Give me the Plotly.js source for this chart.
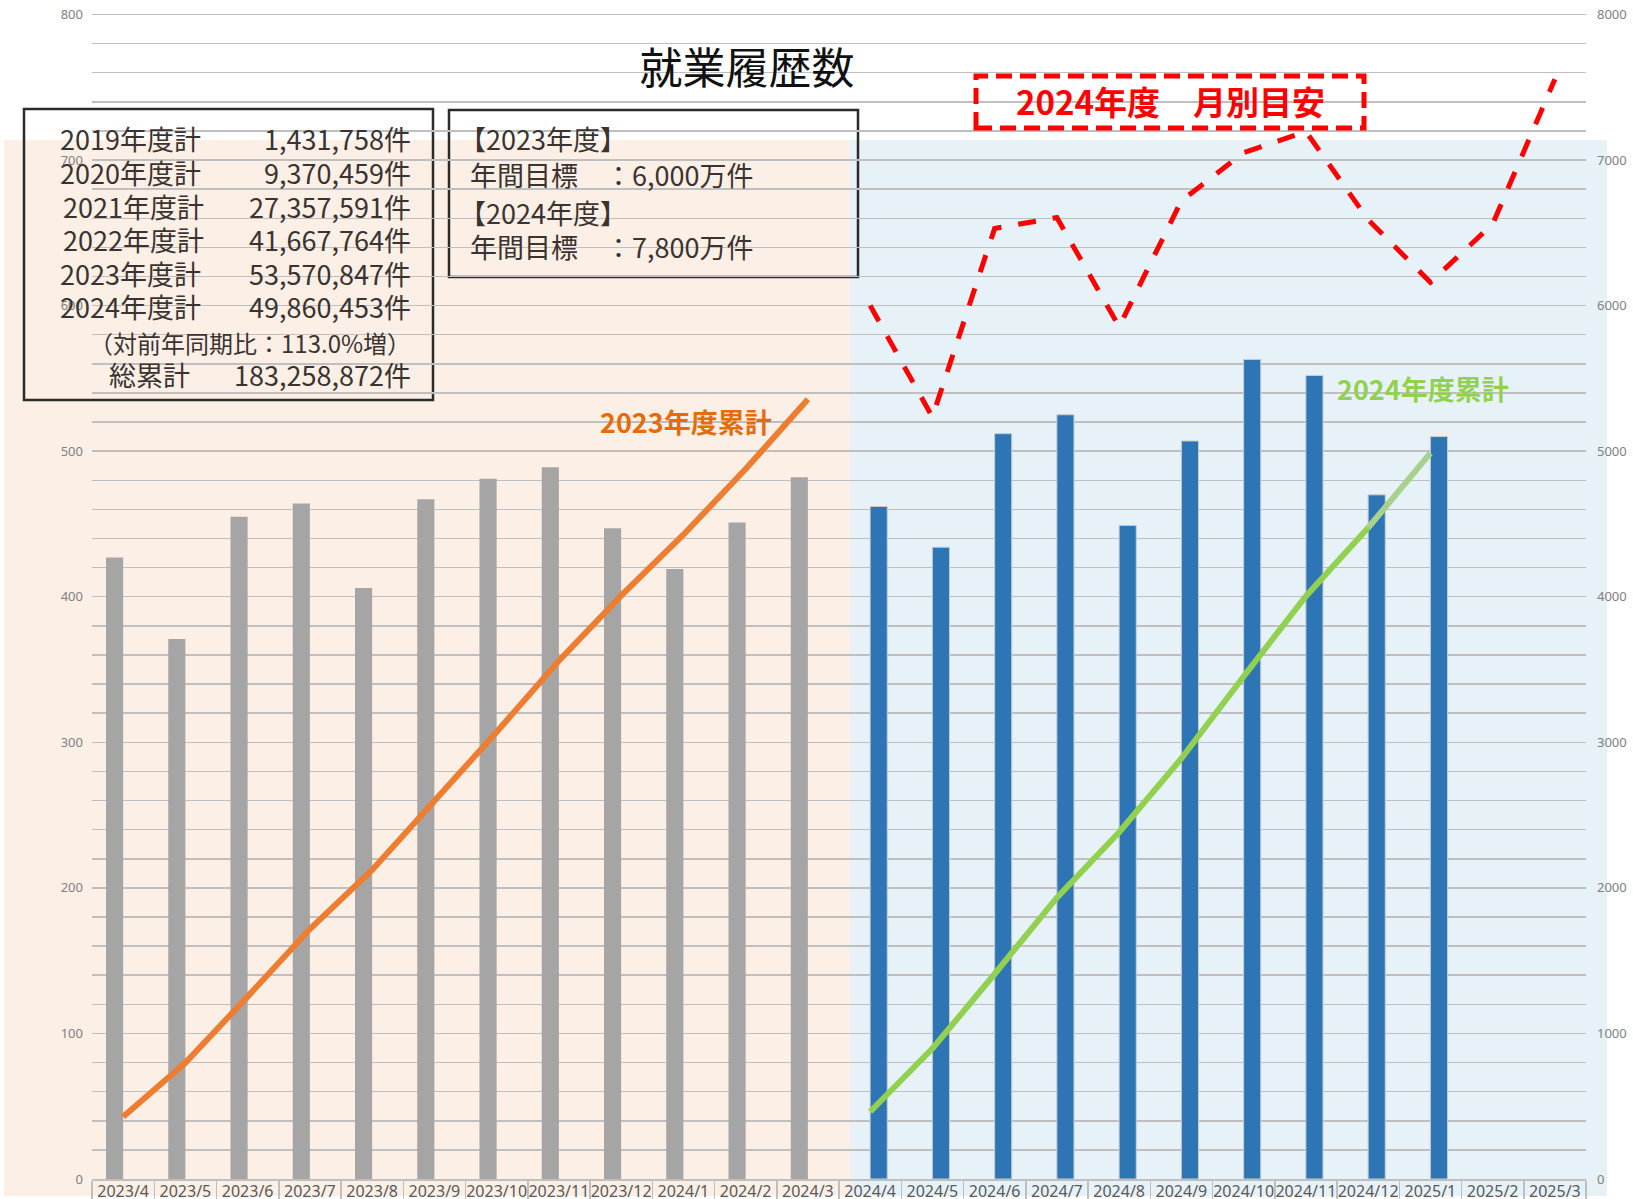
<!DOCTYPE html>
<html>
<head>
<meta charset="utf-8">
<script src="https://cdn.plot.ly/plotly-3.0.1.min.js"></script>
<style>
html,body{margin:0;padding:0;background:#fff;}
#chart{width:1633px;height:1199px;}
</style>
</head>
<body>
<div id="chart"></div>
<script>
// ---- data (万件) ----
const months = ['2023/4','2023/5','2023/6','2023/7','2023/8','2023/9','2023/10','2023/11','2023/12','2024/1','2024/2','2024/3',
                '2024/4','2024/5','2024/6','2024/7','2024/8','2024/9','2024/10','2024/11','2024/12','2025/1','2025/2','2025/3'];
const monthly2023 = [427,371,455,464,406,467,481,489,447,419,451,482, null,null,null,null,null,null,null,null,null,null,null,null];
const monthly2024 = [null,null,null,null,null,null,null,null,null,null,null,null, 462,434,512,525,449,507,563,552,470,510,null,null];
const cumulative2023 = [427,798,1253,1717,2123,2590,3071,3560,4007,4426,4877,5357, null,null,null,null,null,null,null,null,null,null,null,null];
const cumulative2024 = [null,null,null,null,null,null,null,null,null,null,null,null, 462,896,1408,1933,2382,2889,3452,4004,4474,4986,null,null];
const target2024 = [null,null,null,null,null,null,null,null,null,null,null,null, 6000,5235,6530,6605,5855,6720,7050,7196,6590,6160,6560,7555];

const summaryLabels = ['2019年度計','2020年度計','2021年度計','2022年度計','2023年度計','2024年度計'];
const summaryValues = ['1,431,758件','9,370,459件','27,357,591件','41,667,764件','53,570,847件','49,860,453件'];
const yoyText = '（対前年同期比：113.0%増）';
const totalLabel = '総累計';
const totalValue = '183,258,872件';
const goalLines = ['【2023年度】','年間目標　：6,000万件','【2024年度】','年間目標　：7,800万件'];

// ---- layout helpers (pixel -> paper) ----
const L = 92, R = 47, T = 13, B = 20, W = 1633, H = 1199;
const PW = W - L - R, PH = H - T - B;
const px = x => (x - L) / PW;
const py = y => (H - B - y) / PH;

const FONT = '"Noto Sans CJK JP", "Noto Sans", sans-serif';
const lastIdx = cumulative2024.reduce((a, v, i) => v != null ? i : a, -1);

const traces = [
  {type:'bar', x: months, y: monthly2023, name:'2023', marker:{color:'#a5a5a5'}, yaxis:'y'},
  {type:'bar', x: months, y: monthly2024, name:'2024', marker:{color:'#2e75b6', line:{color:'#c8ccd0', width:1}}, yaxis:'y'},
  {type:'scatter', mode:'lines', x: months, y: cumulative2023, yaxis:'y2', line:{color:'#ed7d31', width:6}, connectgaps:false},
  {type:'scatter', mode:'lines', x: months.slice(0, lastIdx), y: cumulative2024.slice(0, lastIdx), yaxis:'y2', line:{color:'#92d050', width:6}},
  {type:'scatter', mode:'lines', x: months.slice(lastIdx-1, lastIdx+1), y: cumulative2024.slice(lastIdx-1, lastIdx+1), yaxis:'y2', line:{color:'#a9d18e', width:6}},
  {type:'scatter', mode:'lines', x: months, y: target2024, yaxis:'y2', line:{color:'#ff0000', width:5, dash:'18px,17px'}}
];

const shapes = [
  // shaded backgrounds
  {type:'rect', xref:'paper', yref:'paper', x0:px(4), x1:px(850), y0:py(1196), y1:py(140), fillcolor:'#fcefe6', line:{width:0}, layer:'below'},
  {type:'rect', xref:'paper', yref:'paper', x0:px(850), x1:px(1607), y0:py(1196), y1:py(140), fillcolor:'#e7f1f8', line:{width:0}, layer:'below'},
  // text boxes
  {type:'rect', xref:'paper', yref:'paper', x0:px(24), x1:px(433), y0:py(400), y1:py(109), line:{color:'#2b2b2b', width:2.5}, fillcolor:'rgba(0,0,0,0)', layer:'below'},
  {type:'rect', xref:'paper', yref:'paper', x0:px(449), x1:px(858), y0:py(277), y1:py(110), line:{color:'#2b2b2b', width:2.5}, fillcolor:'rgba(0,0,0,0)', layer:'below'},
  {type:'rect', xref:'paper', yref:'paper', x0:px(976), x1:px(1364), y0:py(128), y1:py(76), line:{color:'#ff0000', width:5, dash:'16px,8px'}, fillcolor:'rgba(255,255,255,0)', layer:'above'}
];

const ann = [];
const txtColor = '#3a3330';
const lineY = [138,172,206,239,273,306];
const lineX = [58,58,61,61,58,58];
summaryLabels.forEach((t,i) => {
  ann.push({xref:'paper', yref:'paper', x:px(lineX[i]), y:py(lineY[i]), xanchor:'left', yanchor:'middle', text:t, showarrow:false, font:{family:FONT, size:27, color:txtColor}});
  ann.push({xref:'paper', yref:'paper', x:px(413), y:py(lineY[i]), xanchor:'right', yanchor:'middle', text:summaryValues[i], showarrow:false, font:{family:FONT, size:27, color:txtColor}});
});
ann.push({xref:'paper', yref:'paper', x:px(413), y:py(342), xanchor:'right', yanchor:'middle', text:yoyText, showarrow:false, font:{family:FONT, size:24, color:txtColor}});
ann.push({xref:'paper', yref:'paper', x:px(107), y:py(375), xanchor:'left', yanchor:'middle', text:totalLabel, showarrow:false, font:{family:FONT, size:27, color:txtColor}});
ann.push({xref:'paper', yref:'paper', x:px(413), y:py(375), xanchor:'right', yanchor:'middle', text:totalValue, showarrow:false, font:{family:FONT, size:27, color:txtColor}});
const goalY = [138,175,212,247];
const goalX = [457,468,457,468];
goalLines.forEach((t,i) => {
  ann.push({xref:'paper', yref:'paper', x:px(goalX[i]), y:py(goalY[i]), xanchor:'left', yanchor:'middle', text:t, showarrow:false, font:{family:FONT, size:27, color:txtColor}});
});
ann.push({xref:'paper', yref:'paper', x:px(1170), y:py(101), xanchor:'center', yanchor:'middle', text:'<b>2024年度　月別目安</b>', showarrow:false, font:{family:FONT, size:33, color:'#ff0000'}});
ann.push({xref:'paper', yref:'paper', x:px(598), y:py(422), xanchor:'left', yanchor:'middle', text:'<b>2023年度累計</b>', showarrow:false, font:{family:FONT, size:27, color:'#e46c0a'}});
ann.push({xref:'paper', yref:'paper', x:px(1335), y:py(388), xanchor:'left', yanchor:'middle', text:'<b>2024年度累計</b>', showarrow:false, font:{family:FONT, size:27, color:'#92d050'}});

const layout = {
  width: W, height: H,
  margin: {l:L, r:R, t:T, b:B, pad:0},
  paper_bgcolor:'#ffffff',
  plot_bgcolor:'rgba(0,0,0,0)',
  showlegend:false,
  barmode:'group', bargap:0.45, bargroupgap:0,
  title: {text:'就業履歴数', x: 747/W, xanchor:'center', y: 1 - 69/H, yanchor:'middle', xref:'container', yref:'container',
          font:{family:FONT, size:43, color:'#111111'}},
  xaxis: {type:'category', categoryorder:'array', categoryarray: months,
          showgrid:false, tickson:'boundaries', ticks:'outside', ticklen:22, tickcolor:'#bfbfbf', tickwidth:1.5,
          showline:true, linecolor:'#bfbfbf', linewidth:1.5,
          tickfont:{family:'"Noto Sans", sans-serif', size:16, color:'#595959'}, ticklabelstandoff:-3, tickangle:0},
  yaxis: {range:[0,801], dtick:100, tick0:0, showgrid:true, gridcolor:'#bfbfbf', gridwidth:1.5, zeroline:false,
          minor:{dtick:20, tick0:0, showgrid:true, gridcolor:'#bfbfbf', gridwidth:1.5},
          tickfont:{family:'"Noto Sans", sans-serif', size:13, color:'#808080'}, ticks:'', ticklabelstandoff:8},
  yaxis2: {range:[0,8010], dtick:1000, tick0:0, overlaying:'y', side:'right', showgrid:false, zeroline:false,
           tickfont:{family:'"Noto Sans", sans-serif', size:13, color:'#808080'}, ticks:'', ticklabelstandoff:10},
  shapes: shapes,
  annotations: ann
};

Plotly.newPlot('chart', traces, layout, {displayModeBar:false, staticPlot:true});
</script>
</body>
</html>
